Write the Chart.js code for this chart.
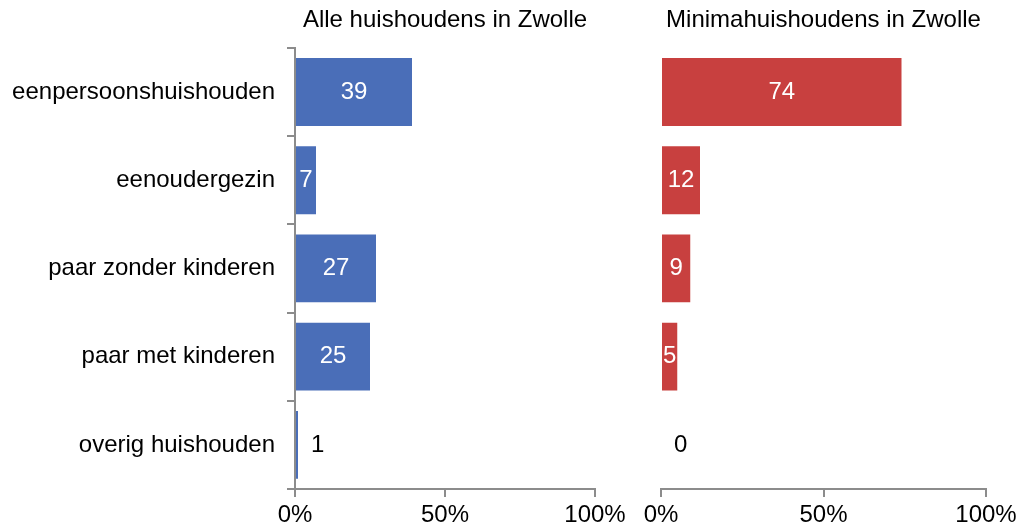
<!DOCTYPE html>
<html>
<head>
<meta charset="utf-8">
<script src="https://cdn.jsdelivr.net/npm/chart.js@4.4.0/dist/chart.umd.min.js"></script>
<style>
  body { margin: 0; background: #fff; }
  #wrap { position: relative; width: 1022px; height: 530px; }
  #left { position: absolute; left: 0; top: 0; }
  #right { position: absolute; left: 600px; top: 0; }
</style>
</head>
<body>
<div id="wrap">
  <canvas id="left" width="631" height="530"></canvas>
  <canvas id="right" width="422" height="530"></canvas>
</div>
<script>
var categories = ['eenpersoonshuishouden', 'eenoudergezin', 'paar zonder kinderen', 'paar met kinderen', 'overig huishouden'];
var alleValues = [39, 7, 27, 25, 1];
var minimaValues = [74, 12, 9, 5, 0];
var xTicks = [0, 50, 100];
var titles = ['Alle huishoudens in Zwolle', 'Minimahuishoudens in Zwolle'];

Chart.defaults.font.family = '"Liberation Sans", Arial, sans-serif';
Chart.defaults.font.size = 24;
Chart.defaults.color = '#000';

var axisGrey = '#8c8c8c';

// value labels: white centred inside the bar, black just after it when the bar is tiny
var valueLabels = {
    id: 'valueLabels',
    afterDatasetsDraw: function(chart) {
        var ctx = chart.ctx;
        var ds = chart.data.datasets[0];
        chart.getDatasetMeta(0).data.forEach(function(bar, i) {
            var v = ds.data[i];
            ctx.save();
            ctx.font = '24px "Liberation Sans", Arial, sans-serif';
            ctx.textBaseline = 'middle';
            if (v >= 3) {
                ctx.fillStyle = '#fff';
                ctx.textAlign = 'center';
                ctx.fillText(v, (bar.base + bar.x) / 2, bar.y);
            } else {
                ctx.fillStyle = '#000';
                ctx.textAlign = 'left';
                ctx.fillText(v, bar.x + 13, bar.y);
            }
            ctx.restore();
        });
    }
};

function makeChart(id, values, color, title, showY) {
    var ctx = document.getElementById(id).getContext('2d');
    return new Chart(ctx, {
        type: 'bar',
        data: {
            labels: categories,
            datasets: [{
                data: values,
                backgroundColor: color,
                barPercentage: 0.77,
                categoryPercentage: 1
            }]
        },
        options: {
            indexAxis: 'y',
            responsive: false,
            animation: false,
            layout: { padding: { left: showY ? 0 : 61, right: 36, top: 0, bottom: 0 } },
            plugins: {
                legend: { display: false },
                tooltip: { enabled: false },
                title: {
                    display: true,
                    fullSize: false,
                    text: title,
                    color: '#000',
                    font: { size: 24, weight: 'normal' },
                    padding: { top: 6, bottom: 13 }
                }
            },
            scales: {
                x: {
                    min: 0,
                    max: 100,
                    afterBuildTicks: function(s) {
                        s.ticks = xTicks.map(function(v) { return { value: v }; });
                    },
                    afterFit: function(s) { s.height = 41; },
                    ticks: {
                        padding: 4,
                        maxRotation: 0,
                        callback: function(v) { return v + '%'; }
                    },
                    grid: { drawOnChartArea: false, drawTicks: true, tickLength: 8, color: axisGrey, lineWidth: 2 },
                    border: { display: true, color: axisGrey, width: 2 }
                },
                y: {
                    display: showY,
                    afterFit: function(s) { if (showY) s.width = 295; },
                    ticks: { padding: 12 },
                    grid: { drawOnChartArea: false, drawTicks: true, tickLength: 8, offset: true, color: axisGrey, lineWidth: 2 },
                    border: { display: true, color: axisGrey, width: 2 }
                }
            }
        },
        plugins: [valueLabels]
    });
}

makeChart('left', alleValues, '#4a6eb8', titles[0], true);
makeChart('right', minimaValues, '#c8403f', titles[1], false);
</script>
</body>
</html>
